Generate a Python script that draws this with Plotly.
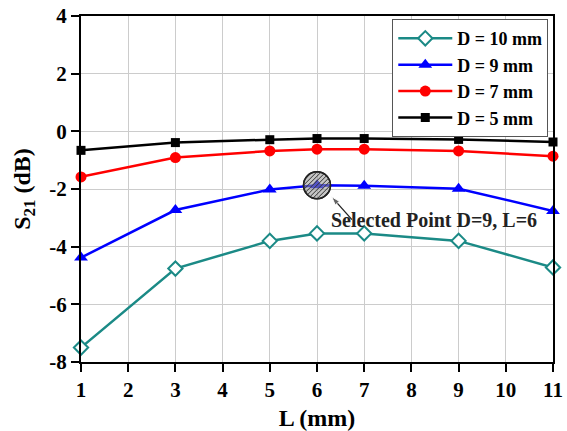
import math
import plotly.graph_objects as go

# Slot length L (mm) and transmission S21 (dB) for each diameter D
L_mm = [1, 3, 5, 6, 7, 9, 11]
s21_d10 = [-7.50, -4.76, -3.80, -3.54, -3.54, -3.80, -4.72]
s21_d9 = [-4.38, -2.73, -2.02, -1.87, -1.89, -1.99, -2.76]
s21_d7 = [-1.58, -0.91, -0.68, -0.62, -0.62, -0.68, -0.86]
s21_d5 = [-0.66, -0.39, -0.29, -0.25, -0.25, -0.28, -0.37]

series_names = ["D = 10 mm", "D = 9 mm", "D = 7 mm", "D = 5 mm"]
x_ticks = list(range(1, 12))
y_ticks = [-8, -6, -4, -2, 0, 2, 4]

selected_L = 6
selected_S21 = s21_d9[L_mm.index(selected_L)]

FONT = "Liberation Serif"

fig = go.Figure()

styles = [
    (s21_d10, "#1b8a86", dict(symbol="diamond", size=11, color="white",
                              line=dict(color="#1b8a86", width=2))),
    (s21_d9, "#0000ff", dict(symbol="triangle-up", size=12, color="#0000ff")),
    (s21_d7, "#ff0000", dict(symbol="circle", size=11, color="#ff0000")),
    (s21_d5, "#000000", dict(symbol="square", size=9, color="#000000")),
]
for (vals, col, mk), name in zip(styles, series_names):
    fig.add_trace(go.Scatter(
        x=L_mm, y=vals, name=f"<b>{name}</b>", mode="lines+markers",
        line=dict(color=col, width=2.5), marker=mk, cliponaxis=False,
    ))

# Hatched circle around the selected design point
R = 13.5
hatch = []
step = 4.5
k = -2 * R
while k <= 2 * R:
    # chord of the line y = x + k inside a circle of radius R
    disc = 2 * R * R - k * k
    if disc > 0:
        s = math.sqrt(disc)
        xa = (-k - s) / 2
        xb = (-k + s) / 2
        hatch.append(f"M{xa:.2f},{xa + k:.2f} L{xb:.2f},{xb + k:.2f}")
    k += step
circle_pos = dict(xref="x", yref="y", xsizemode="pixel", ysizemode="pixel",
                  xanchor=selected_L, yanchor=selected_S21)
fig.add_shape(type="circle", x0=-R, x1=R, y0=-R, y1=R,
              fillcolor="rgba(150,150,150,0.55)", line=dict(color="#222222", width=1.5),
              **circle_pos)
fig.add_shape(type="path", path=" ".join(hatch),
              line=dict(color="#333333", width=1), **circle_pos)
fig.add_shape(type="circle", x0=-R, x1=R, y0=-R, y1=R,
              line=dict(color="#222222", width=1.5), **circle_pos)

# Arrow from the label to the selected point
fig.add_trace(go.Scatter(
    x=[6.74, 6.31], y=[-3.06, -2.27], mode="lines+markers", showlegend=False,
    hoverinfo="skip", line=dict(color="#222222", width=1.3),
    marker=dict(symbol=["circle", "arrow"], size=[0, 9], angleref="previous",
                color="#222222"),
))
fig.add_annotation(x=8.48, y=-3.08, xref="x", yref="y",
                   text=f"<b>Selected Point D=9, L={selected_L}</b>", showarrow=False,
                   font=dict(family=FONT, size=20, color="#222222"))

axis_common = dict(
    showline=True, linecolor="black", linewidth=2, mirror=True,
    showgrid=True, gridcolor="#cccccc", gridwidth=1, zeroline=False,
    ticks="outside", ticklen=8, tickwidth=2, tickcolor="black",
    tickfont=dict(family=FONT, size=21, color="black"),
    automargin=False,
)

fig.update_layout(
    width=567, height=431,
    margin=dict(l=81, r=14, t=16, b=69),
    paper_bgcolor="white", plot_bgcolor="white",
    font=dict(family=FONT),
    showlegend=True,
    legend=dict(x=0.99, y=0.991, xanchor="right", yanchor="top",
                bgcolor="white", bordercolor="#555555", borderwidth=1,
                font=dict(family=FONT, size=18, color="black"),
                itemwidth=54, tracegroupgap=0),
    xaxis=dict(range=[1, 11], tickvals=x_ticks,
               ticktext=[f"<b>{t}</b>" for t in x_ticks],
               title=dict(text="<b>L (mm)</b>", font=dict(family=FONT, size=24, color="black"),
                          standoff=8),
               **axis_common),
    yaxis=dict(range=[-8, 4], tickvals=y_ticks,
               ticktext=[f"<b>{t}</b>" for t in y_ticks],
               title=dict(text="<b>S<sub>21</sub> (dB)</b>",
                          font=dict(family=FONT, size=24, color="black"), standoff=12),
               **axis_common),
)

fig.write_html("out.html")
